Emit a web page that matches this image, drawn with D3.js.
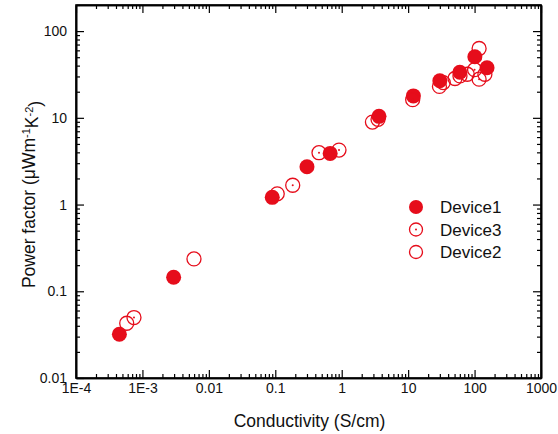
<!DOCTYPE html>
<html>
<head>
<meta charset="utf-8">
<script src="https://cdn.jsdelivr.net/npm/d3@7/dist/d3.min.js"></script>
<style>
  body { margin: 0; background: #fff; }
  svg text { font-family: "Liberation Sans", Arial, Helvetica, sans-serif; fill: #111; }
  .axis path, .axis line { stroke: #000; }
</style>
</head>
<body>
<div id="chart"></div>
<script>
// conductivity (S/cm) and power factor (uW m-1 K-2)
var device1Sigma = [4.5e-4, 2.95e-3, 0.09, 0.30, 0.67, 3.64, 12.0, 30.0, 60, 101, 154];
var device1PF    = [0.032, 0.145, 1.21, 2.73, 3.89, 10.4, 17.9, 26.8, 33.6, 50.7, 37.8];

var device2Sigma = [5.8e-4, 5.97e-3, 0.107, 2.9, 3.52, 29.6, 33.8, 50.7, 77.6, 117, 143];
var device2PF    = [0.0428, 0.236, 1.33, 8.94, 9.6, 23, 25.5, 28.4, 31.8, 63, 31.8];

var device3Sigma = [7.46e-4, 0.183, 0.455, 0.91, 11.7, 60.3, 100, 117];
var device3PF    = [0.0498, 1.67, 3.96, 4.25, 16.2, 30.4, 35.9, 27.9];

var xTickValues = [1e-4, 1e-3, 0.01, 0.1, 1, 10, 100, 1000];
var xTickLabels = ["1E-4", "1E-3", "0.01", "0.1", "1", "10", "100", "1000"];
var yTickValues = [0.01, 0.1, 1, 10, 100];
var yTickLabels = ["0.01", "0.1", "1", "10", "100"];

var legendNames = ["Device1", "Device3", "Device2"];

var red = "#e60d1b";

var margin = { top: 5, right: 17, bottom: 56, left: 76 },
    width = 558 - margin.left - margin.right,
    height = 434 - margin.top - margin.bottom;

var x = d3.scaleLog().domain([1e-4, 1000]).range([0, width]);
var y = d3.scaleLog().domain([0.01, 200]).range([height, 0]);

var svg = d3.select("#chart").append("svg")
    .attr("width", 558)
    .attr("height", 434)
  .append("g")
    .attr("transform", "translate(" + margin.left + "," + margin.top + ")");

// minor ticks 2..9 of every decade
function minorTicks(lo, hi) {
  var out = [];
  for (var e = lo; e < hi; e++) {
    for (var m = 2; m <= 9; m++) out.push(m * Math.pow(10, e));
  }
  return out;
}
var xMinor = minorTicks(-4, 3);
var yMinor = minorTicks(-2, 2).concat([200]).filter(function (v) { return v <= 200; });

function fmt(values, labels) {
  return function (d) { return labels[values.indexOf(d)]; };
}

// bottom / top axes
svg.append("g").attr("class", "axis")
  .attr("transform", "translate(0," + height + ")")
  .call(d3.axisBottom(x).tickValues(xTickValues).tickFormat(fmt(xTickValues, xTickLabels))
    .tickSizeInner(-8).tickSizeOuter(0).tickPadding(5));
svg.append("g").attr("class", "axis")
  .attr("transform", "translate(0," + height + ")")
  .call(d3.axisBottom(x).tickValues(xMinor).tickFormat("").tickSizeInner(-4).tickSizeOuter(0));
svg.append("g").attr("class", "axis")
  .call(d3.axisTop(x).tickValues(xTickValues).tickFormat("").tickSizeInner(-8).tickSizeOuter(0));
svg.append("g").attr("class", "axis")
  .call(d3.axisTop(x).tickValues(xMinor).tickFormat("").tickSizeInner(-4).tickSizeOuter(0));

// left / right axes
svg.append("g").attr("class", "axis")
  .call(d3.axisLeft(y).tickValues(yTickValues).tickFormat(fmt(yTickValues, yTickLabels))
    .tickSizeInner(-8).tickSizeOuter(0).tickPadding(9));
svg.append("g").attr("class", "axis")
  .call(d3.axisLeft(y).tickValues(yMinor).tickFormat("").tickSizeInner(-4).tickSizeOuter(0));
svg.append("g").attr("class", "axis")
  .attr("transform", "translate(" + width + ",0)")
  .call(d3.axisRight(y).tickValues(yTickValues).tickFormat("").tickSizeInner(-8).tickSizeOuter(0));
svg.append("g").attr("class", "axis")
  .attr("transform", "translate(" + width + ",0)")
  .call(d3.axisRight(y).tickValues(yMinor).tickFormat("").tickSizeInner(-4).tickSizeOuter(0));

svg.selectAll(".axis text").style("font-size", "14px");
svg.selectAll(".axis line").attr("stroke-width", 1.2);
svg.selectAll(".axis path").attr("stroke-width", 1.6);

// frame
svg.append("rect")
  .attr("width", width).attr("height", height)
  .attr("fill", "none").attr("stroke", "#000").attr("stroke-width", 1.6);

// points
function pairs(xs, ys) {
  return xs.map(function (v, i) { return { x: v, y: ys[i] }; });
}

var g2 = svg.append("g");
g2.selectAll("circle").data(pairs(device2Sigma, device2PF)).enter().append("circle")
  .attr("cx", function (d) { return x(d.x); })
  .attr("cy", function (d) { return y(d.y); })
  .attr("r", 7).attr("fill", "none").attr("stroke", red).attr("stroke-width", 1.3);

var g1 = svg.append("g");
g1.selectAll("circle").data(pairs(device1Sigma, device1PF)).enter().append("circle")
  .attr("cx", function (d) { return x(d.x); })
  .attr("cy", function (d) { return y(d.y); })
  .attr("r", 7.5).attr("fill", red);

var g3 = svg.append("g");
var d3pts = pairs(device3Sigma, device3PF);
g3.selectAll("circle.ring").data(d3pts).enter().append("circle")
  .attr("class", "ring")
  .attr("cx", function (d) { return x(d.x); })
  .attr("cy", function (d) { return y(d.y); })
  .attr("r", 7).attr("fill", "none").attr("stroke", red).attr("stroke-width", 1.3);
g3.selectAll("circle.dot").data(d3pts).enter().append("circle")
  .attr("class", "dot")
  .attr("cx", function (d) { return x(d.x); })
  .attr("cy", function (d) { return y(d.y); })
  .attr("r", 1).attr("fill", red);

// legend
var legend = svg.selectAll(".legend").data(legendNames).enter().append("g")
  .attr("transform", function (d, i) { return "translate(" + (416 - margin.left) + "," + (207 - margin.top + i * 22.5) + ")"; });
legend.append("circle")
  .attr("r", function (d, i) { return i == 0 ? 7 : 6.5; })
  .attr("fill", function (d, i) { return i == 0 ? red : "none"; })
  .attr("stroke", function (d, i) { return i == 0 ? "none" : red; })
  .attr("stroke-width", 1.3);
legend.filter(function (d, i) { return i == 1; }).append("circle").attr("r", 1).attr("fill", red);
legend.append("text")
  .attr("x", 24).attr("dy", "0.36em")
  .style("font-size", "17px")
  .text(function (d) { return d; });

// axis titles
svg.append("text")
  .attr("x", width / 2 + 1).attr("y", height + 49)
  .attr("text-anchor", "middle")
  .style("font-size", "17.5px")
  .text("Conductivity (S/cm)");

var yt = svg.append("text")
  .attr("transform", "translate(-41," + (height / 2 + 3) + ") rotate(-90)")
  .attr("text-anchor", "middle")
  .style("font-size", "17.5px");
yt.append("tspan").text("Power factor (");
yt.append("tspan").text("\u03bc");
yt.append("tspan").text("Wm");
yt.append("tspan").attr("dy", "-0.45em").style("font-size", "11px").text("-1");
yt.append("tspan").attr("dy", "0.45em").text("K");
yt.append("tspan").attr("dy", "-0.45em").style("font-size", "11px").text("-2");
yt.append("tspan").attr("dy", "0.45em").text(")");
</script>
</body>
</html>
